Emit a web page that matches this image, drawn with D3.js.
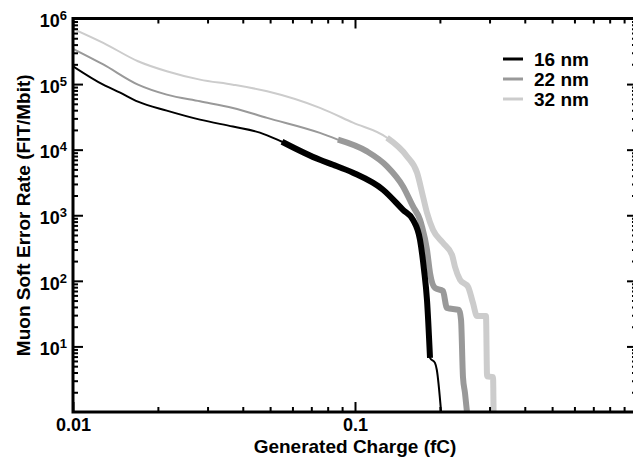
<!DOCTYPE html>
<html>
<head>
<meta charset="utf-8">
<script src="https://cdn.jsdelivr.net/npm/d3@7"></script>
<style>
  body { margin: 0; background: #fff; }
  text { font-family: "Liberation Sans", Arial, Helvetica, sans-serif; font-weight: bold; fill: #000; }
  .tick line { stroke: #000; stroke-width: 2; }
</style>
</head>
<body>
<div id="chart"></div>
<script>
// generated charge (fC) vs muon soft error rate (FIT/Mbit)
var charge16 = [0.01, 0.0128, 0.0147, 0.017, 0.0215, 0.0282, 0.0369, 0.046, 0.0551, 0.0751, 0.0836, 0.0984, 0.1257, 0.148, 0.1606, 0.170, 0.1757, 0.180, 0.1845, 0.1921, 0.195, 0.202];
var rate16   = [1.87e5, 9.8e4, 7.4e4, 5.4e4, 3.94e4, 2.87e4, 2.25e4, 1.82e4, 1.32e4, 7.0e3, 5.9e3, 4.45e3, 2.45e3, 1.21e3, 853, 423, 147, 51, 6.7, 5.6, 4.4, 1];
var bold16   = [8, 18];   // index range drawn heavy

var charge22 = [0.01, 0.0128, 0.017, 0.0215, 0.0282, 0.0369, 0.0488, 0.0751, 0.087, 0.1103, 0.1299, 0.148, 0.1606, 0.170, 0.1729, 0.180, 0.1845, 0.1921, 0.205, 0.2118, 0.2338, 0.2377, 0.2415, 0.2455, 0.2495];
var rate22   = [3.45e5, 1.99e5, 9.8e4, 6.9e4, 5.46e4, 4.33e4, 3.05e4, 1.8e4, 1.42e4, 9.4e3, 5.56e3, 2.75e3, 1.36e3, 853, 667, 297, 132, 78, 70, 38.7, 36, 25.4, 3.4, 1.95, 1];
var bold22   = [8, 24];

var charge32 = [0.01, 0.0128, 0.017, 0.0215, 0.0282, 0.0369, 0.0488, 0.0751, 0.0984, 0.1299, 0.1529, 0.166, 0.1742, 0.180, 0.189, 0.205, 0.2208, 0.2262, 0.2357, 0.2516, 0.262, 0.2707, 0.2914, 0.294, 0.3087, 0.31];
var rate32   = [6.97e5, 4.26e5, 2.23e5, 1.57e5, 1.17e5, 9.8e4, 7.76e4, 4.33e4, 2.58e4, 1.52e4, 7.9e3, 4.45e3, 1.94e3, 1.09e3, 601, 380, 249, 164, 104, 81, 46, 29, 29, 3.5, 3.4, 1];
var bold32   = [9, 25];

var seriesNames = ["16 nm", "22 nm", "32 nm"];
var seriesColors = ["#000000", "#999999", "#cccccc"];

var xTickValues = [0.01, 0.1, 1];
var xTickLabels = ["0.01", "0.1", ""];
var yTickExponents = [1, 2, 3, 4, 5, 6];

var svgWidth = 633;
var svgHeight = 460;
var margin = { top: 18.5, left: 73 };
var chartWidth = 564;
var chartHeight = 393.5;

var svg = d3.select("#chart")
  .append("svg")
  .attr("width", svgWidth)
  .attr("height", svgHeight);

var chartGroup = svg.append("g")
  .attr("transform", `translate(${margin.left}, ${margin.top})`);

var x = d3.scaleLog().domain([0.01, 1]).range([0, chartWidth]);
var y = d3.scaleLog().domain([1, 1e6]).range([chartHeight, 0]);

// minor ticks 2..9 in each decade
function minors(lo, hi) {
  var out = [];
  for (var d = lo; d < hi; d *= 10) {
    for (var m = 2; m <= 9; m++) out.push(d * m);
  }
  return out;
}
var xMinor = minors(0.01, 1);
var yMinor = minors(1, 1e6);

chartGroup.append("clipPath").attr("id", "plotClip")
  .append("rect").attr("width", chartWidth).attr("height", chartHeight);

// curves
var line = d3.line()
  .x(d => x(d[0]))
  .y(d => y(d[1]))
  .curve(d3.curveMonotoneX);

var series = [
  { c: charge32, r: rate32, bold: bold32, color: seriesColors[2] },
  { c: charge22, r: rate22, bold: bold22, color: seriesColors[1] },
  { c: charge16, r: rate16, bold: bold16, color: seriesColors[0] }
];

var curves = chartGroup.append("g").attr("clip-path", "url(#plotClip)");
series.forEach(function(s) {
  var pts = s.c.map((v, i) => [v, s.r[i]]);
  curves.append("path")
    .attr("d", line(pts))
    .attr("fill", "none")
    .attr("stroke", s.color)
    .attr("stroke-width", 2);
  curves.append("path")
    .attr("d", line(pts.slice(s.bold[0], s.bold[1] + 1)))
    .attr("fill", "none")
    .attr("stroke", s.color)
    .attr("stroke-width", 6);
});

// axes: ticks point inward on all four sides
function noText(g) { g.select(".domain").remove(); g.selectAll("text").remove(); }

chartGroup.append("g")
  .attr("transform", `translate(0, ${chartHeight})`)
  .call(d3.axisBottom(x).tickValues(xTickValues).tickSizeInner(-10).tickSizeOuter(0).tickPadding(6)
    .tickFormat((d, i) => xTickLabels[i]))
  .call(g => g.select(".domain").remove())
  .call(g => g.selectAll("text").style("font-size", "18px").attr("fill", "#000"));
chartGroup.append("g")
  .attr("transform", `translate(0, ${chartHeight})`)
  .call(d3.axisBottom(x).tickValues(xMinor).tickSizeInner(-5).tickSizeOuter(0))
  .call(noText);
chartGroup.append("g")
  .call(d3.axisTop(x).tickValues(xTickValues).tickSizeInner(-10).tickSizeOuter(0))
  .call(noText);
chartGroup.append("g")
  .call(d3.axisTop(x).tickValues(xMinor).tickSizeInner(-5).tickSizeOuter(0))
  .call(noText);

var yMajor = yTickExponents.map(e => Math.pow(10, e));
var leftAxis = chartGroup.append("g")
  .call(d3.axisLeft(y).tickValues(yMajor).tickSizeInner(-10).tickSizeOuter(0).tickPadding(6)
    .tickFormat(() => "10"));
leftAxis.select(".domain").remove();
leftAxis.selectAll("text")
  .style("font-size", "18px")
  .attr("fill", "#000")
  .attr("dy", "0.46em")
  .each(function(d) {
    d3.select(this).append("tspan")
      .attr("dy", "-7px")
      .style("font-size", "13px")
      .text(Math.round(Math.log10(d)));
  });
chartGroup.append("g")
  .call(d3.axisLeft(y).tickValues(yMinor).tickSizeInner(-5).tickSizeOuter(0))
  .call(noText);
chartGroup.append("g")
  .attr("transform", `translate(${chartWidth}, 0)`)
  .call(d3.axisRight(y).tickValues(yMajor).tickSizeInner(-10).tickSizeOuter(0))
  .call(noText);
chartGroup.append("g")
  .attr("transform", `translate(${chartWidth}, 0)`)
  .call(d3.axisRight(y).tickValues(yMinor).tickSizeInner(-5).tickSizeOuter(0))
  .call(noText);

// frame
chartGroup.append("rect")
  .attr("width", chartWidth)
  .attr("height", chartHeight)
  .attr("fill", "none")
  .attr("stroke", "#000")
  .attr("stroke-width", 3);

// axis titles
svg.append("text")
  .attr("x", margin.left + chartWidth / 2)
  .attr("y", 453)
  .attr("text-anchor", "middle")
  .style("font-size", "19px")
  .text("Generated Charge (fC)");

svg.append("text")
  .attr("transform", `translate(30, ${margin.top + chartHeight / 2}) rotate(-90)`)
  .attr("text-anchor", "middle")
  .style("font-size", "19px")
  .text("Muon Soft Error Rate (FIT/Mbit)");

// legend
var legend = svg.append("g").attr("transform", "translate(503, 59)");
seriesNames.forEach(function(name, i) {
  legend.append("line")
    .attr("x1", 0).attr("x2", 20)
    .attr("y1", i * 20).attr("y2", i * 20)
    .attr("stroke", seriesColors[i])
    .attr("stroke-width", 3);
  legend.append("text")
    .attr("x", 31)
    .attr("y", i * 20 + 7)
    .style("font-size", "19px")
    .text(name);
});
</script>
</body>
</html>
